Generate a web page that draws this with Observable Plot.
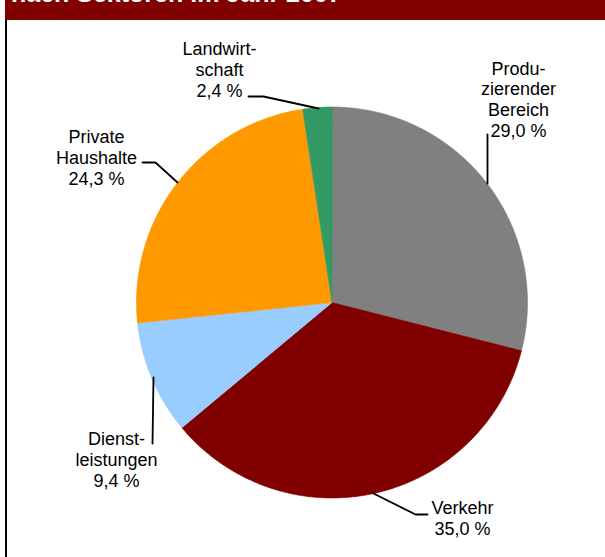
<!DOCTYPE html>
<html>
<head>
<meta charset="utf-8">
<script src="https://cdn.jsdelivr.net/npm/d3@7"></script>
<script src="https://cdn.jsdelivr.net/npm/@observablehq/plot@0.6"></script>
<style>
  html, body { margin: 0; padding: 0; background: #fff; }
  body { font-family: "Liberation Sans", Arial, sans-serif; }
  #wrap { position: relative; width: 605px; height: 557px; overflow: hidden; }
  #header { position: relative; margin-left: 5px; width: 600px; height: 20px; background: #800000; overflow: hidden; }
  #title { position: absolute; left: 6px; top: -19px; font-size: 25px; line-height: 25px; font-weight: bold; color: #fff; white-space: nowrap; }
  #leftborder { position: absolute; left: 5px; top: 20px; width: 2px; height: 537px; background: #000; }
  #chart svg { display: block; }
</style>
</head>
<body>
<div id="wrap">
  <div id="header"><span id="title"></span></div>
  <div id="chart"></div>
  <div id="leftborder"></div>
</div>
<script>
// ---- data ----
const title = "nach Sektoren im Jahr 2007";
const sectors = ["Produzierender Bereich", "Verkehr", "Dienstleistungen", "Private Haushalte", "Landwirtschaft"];
const labelNames = ["Produ-\nzierender\nBereich", "Verkehr", "Dienst-\nleistungen", "Private\nHaushalte", "Landwirt-\nschaft"];
const shares = [29.0, 35.0, 9.4, 24.3, 2.4];
const colors = ["#808080", "#800000", "#99CCFF", "#FF9900", "#339966"];

// ---- layout (page pixel coordinates) ----
const pie = { cx: 331.5, cy: 302, r: 195.5 };
const labelPos = [[518, 98.6], [462, 517.4], [116, 458.7], [96, 157], [219, 69]];
const leaderPaths = [
  [[487, 134], [487, 183]],
  [[427, 514], [415, 514], [373, 493]],
  [[152, 443], [153, 377]],
  [[142, 162], [155, 162], [177, 182]],
  [[248, 96], [263, 96], [318, 108]]
];

document.getElementById("title").textContent = title;

// pie slice outlines derived from the shares
const total = d3.sum(shares);
const slicePts = [];
let acc = 0;
sectors.forEach((s, i) => {
  const a0 = acc / total * 2 * Math.PI;
  acc += shares[i];
  const a1 = acc / total * 2 * Math.PI;
  slicePts.push({ sector: s, x: pie.cx, y: pie.cy });
  const n = Math.max(2, Math.ceil((a1 - a0) / (Math.PI / 360)));
  for (let k = 0; k <= n; k++) {
    const a = a0 + (a1 - a0) * k / n;
    slicePts.push({ sector: s, x: pie.cx + pie.r * Math.sin(a), y: pie.cy - pie.r * Math.cos(a) });
  }
});

const fmt = v => v.toFixed(1).replace(".", ",") + " %";
const labels = sectors.map((s, i) => ({
  sector: s,
  text: labelNames[i] + "\n" + fmt(shares[i]),
  x: labelPos[i][0],
  y: labelPos[i][1]
}));

const leaders = [];
leaderPaths.forEach((p, i) => p.forEach(([x, y]) => leaders.push({ id: sectors[i], x, y })));

const chart = Plot.plot({
  width: 605,
  height: 537,
  margin: 0,
  x: { domain: [0, 605], range: [0, 605], axis: null },
  y: { domain: [20, 557], range: [0, 537], axis: null },
  color: { domain: sectors, range: colors },
  style: { fontFamily: "'Liberation Sans', Arial, sans-serif", background: "transparent", overflow: "visible" },
  marks: [
    Plot.line(slicePts, { x: "x", y: "y", z: "sector", fill: "sector", stroke: "sector", strokeWidth: 0.6, curve: "linear-closed" }),
    Plot.line(leaders, { x: "x", y: "y", z: "id", stroke: "#000", strokeWidth: 1.8 }),
    Plot.text(labels, { x: "x", y: "y", text: "text", fontSize: 18, lineHeight: 1.15, textAnchor: "middle", fill: "#000" })
  ]
});
document.getElementById("chart").appendChild(chart);
</script>
</body>
</html>
